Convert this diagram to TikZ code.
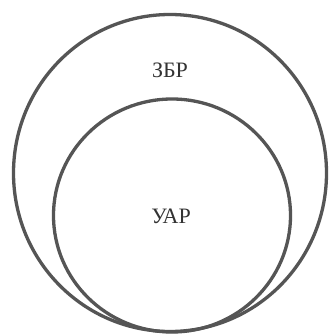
\documentclass[tikz,border=0pt]{standalone}
\usepackage{fontspec}
\setmainfont{Liberation Serif}
\usetikzlibrary{positioning}
\definecolor{ringgray}{HTML}{555555}
\definecolor{textgray}{HTML}{333333}
\tikzset{
  ring/.style={line width=3.3pt, draw=ringgray},
  setlabel/.style={text=textgray, font=\fontsize{22}{22}\selectfont, inner sep=0pt}
}
\begin{document}
\begin{tikzpicture}[x=1pt,y=-1pt]
	\useasboundingbox[fill=white] (0,0) rectangle (330,334);
	
	\coordinate (outer) at (170,173);
	\coordinate (inner) at (172,215.5);
	
	\draw[ring] (outer) ellipse [x radius=156.5, y radius=158.5];
	\draw[ring] (inner) ellipse [x radius=118.5, y radius=116.5];
	
	\node[setlabel] (zbr) at (170,70) {ЗБР};
	\node[setlabel] (uar) at (171,216) {УАР};
\end{tikzpicture}
\end{document}
